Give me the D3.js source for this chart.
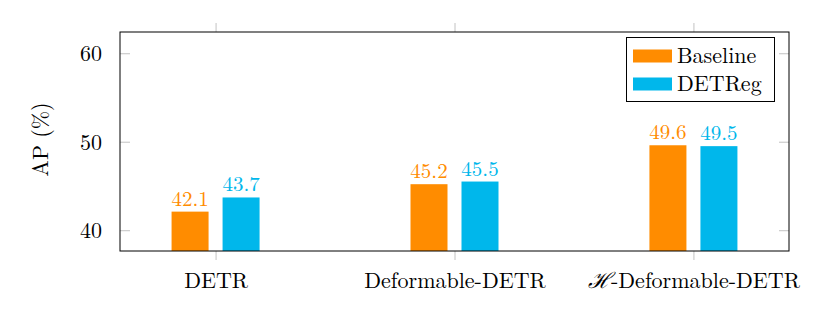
<!DOCTYPE html>
<html>
<head>
<meta charset="utf-8">
<script src="https://cdn.jsdelivr.net/npm/d3@7"></script>
<style>
  html, body { margin: 0; padding: 0; background: #fff; }
  svg { display: block; }
  text { font-family: "Latin Modern Roman", "CMU Serif", "Liberation Serif", "DejaVu Serif", serif; fill: #000; }
</style>
</head>
<body>
<svg id="chart" width="830" height="315"></svg>
<script>
const categories = ["DETR", "Deformable-DETR", "\u210B-Deformable-DETR"];
const seriesNames = ["Baseline", "DETReg"];
const baseline = [42.1, 45.2, 49.6];
const detreg = [43.7, 45.5, 49.5];
const yTicks = [40, 50, 60];
const yLabel = "AP (%)";

const colors = ["#ff8c00", "#00b7eb"];
const series = [baseline, detreg];

const svg = d3.select("#chart");
const pL = 120, pR = 789, pT = 32, pB = 251;

const x = d3.scaleLinear().domain([-0.4, categories.length - 1 + 0.4]).range([pL, pR]);
const y = d3.scaleLinear().domain([37.65, 62.4]).range([pB, pT]);

const barW = 37, offset = 25.5;

const gridColor = "#b3b3b3";
const yAxisL = d3.axisLeft(y).tickValues(yTicks).tickSize(-10).tickPadding(18).tickFormat(d3.format("d"));
const gL = svg.append("g").attr("transform", `translate(${pL},0)`).call(yAxisL);
gL.select(".domain").remove();
gL.selectAll("line").attr("stroke", gridColor).attr("stroke-width", 0.8);
gL.selectAll("text").attr("font-size", 22).attr("font-family", null).attr("dy", "0.34em");

const yAxisR = d3.axisRight(y).tickValues(yTicks).tickSize(-10).tickFormat("");
const gR = svg.append("g").attr("transform", `translate(${pR},0)`).call(yAxisR);
gR.select(".domain").remove();
gR.selectAll("line").attr("stroke", gridColor).attr("stroke-width", 0.8);

const xIdx = categories.map((d, i) => i);
const xAxisB = d3.axisBottom(x).tickValues(xIdx).tickSize(9).tickPadding(12).tickFormat("");
const gB = svg.append("g").attr("transform", `translate(0,${pB})`).call(xAxisB);
gB.select(".domain").remove();
gB.selectAll("line").attr("stroke", gridColor).attr("stroke-width", 0.8);
gB.selectAll("text").attr("font-size", 22).attr("font-family", null)
  .each(function(i) {
    const t = d3.select(this);
    const label = categories[i];
    if (label.startsWith("\u210B")) {
      t.append("tspan").style("font-family", "'DejaVu Serif'").style("font-style", "italic").text("\u210B");
      t.append("tspan").text(label.slice(1));
    } else {
      t.text(label);
    }
  });

const xAxisT = d3.axisTop(x).tickValues(xIdx).tickSize(9).tickFormat("");
const gT = svg.append("g").attr("transform", `translate(0,${pT})`).call(xAxisT);
gT.select(".domain").remove();
gT.selectAll("line").attr("stroke", gridColor).attr("stroke-width", 0.8);

series.forEach((vals, s) => {
  const off = s === 0 ? -offset : offset;
  svg.append("g").selectAll("rect").data(vals).join("rect")
    .attr("x", (d, i) => x(i) + off - barW / 2)
    .attr("width", barW)
    .attr("y", d => y(d))
    .attr("height", d => pB - y(d))
    .attr("fill", colors[s]);
  svg.append("g").selectAll("text").data(vals).join("text")
    .attr("x", (d, i) => x(i) + off)
    .attr("y", d => y(d) - 6)
    .attr("text-anchor", "middle")
    .attr("font-size", 21)
    .style("fill", colors[s])
    .text(d => d3.format(".1f")(d));
});

svg.append("rect").attr("x", pL).attr("y", pT).attr("width", pR - pL).attr("height", pB - pT)
  .attr("fill", "none").attr("stroke", "#000").attr("stroke-width", 1);

svg.append("text")
  .attr("transform", `translate(48,${(pT + pB) / 2 - 2}) rotate(-90)`)
  .attr("text-anchor", "middle")
  .attr("font-size", 22)
  .text(yLabel);

const lg = svg.append("g");
lg.append("rect").attr("x", 626.5).attr("y", 37.5).attr("width", 148).attr("height", 64)
  .attr("fill", "#fff").attr("stroke", "#000").attr("stroke-width", 1);
seriesNames.forEach((name, i) => {
  const cy = 56 + i * 28;
  lg.append("rect").attr("x", 633).attr("y", cy - 6.5).attr("width", 39).attr("height", 13).attr("fill", colors[i]);
  lg.append("text").attr("x", 677).attr("y", cy + 7).attr("font-size", 22).text(name);
});
</script>
</body>
</html>
